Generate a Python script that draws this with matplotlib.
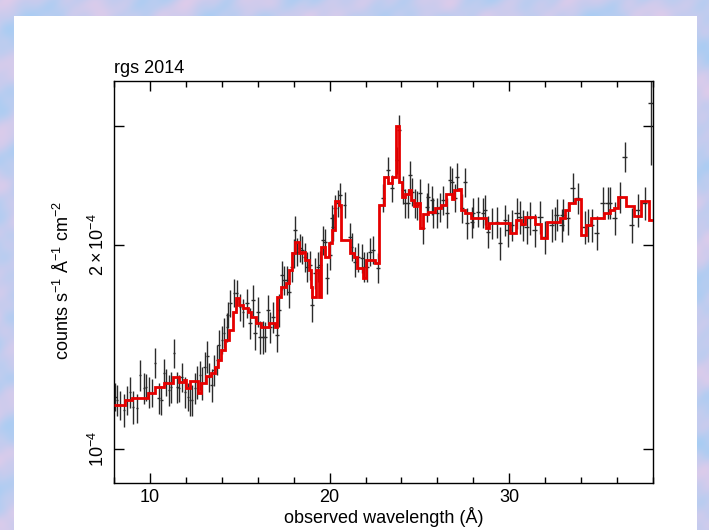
import numpy as np
import matplotlib
matplotlib.use("Agg")
import matplotlib.pyplot as plt
from matplotlib.patches import Rectangle
from matplotlib.ticker import MultipleLocator, FixedLocator, FixedFormatter, NullLocator

plt.rcParams['font.family'] = ['Liberation Sans', 'DejaVu Sans']
plt.rcParams['mathtext.fontset'] = 'custom'
plt.rcParams['mathtext.rm'] = 'Liberation Sans'
plt.rcParams['mathtext.it'] = 'Liberation Sans:italic'
plt.rcParams['mathtext.bf'] = 'Liberation Sans:bold'

# ---- RGS 2014 spectrum: wavelength (Angstrom), flux (1e-4 counts/s/A/cm^2), 1-sigma error
wl_a = [8.06, 8.17, 8.33, 8.56, 8.72, 8.89, 9.06, 9.28, 9.45, 9.67,
        9.78, 9.95, 10.11, 10.28, 10.50, 10.62, 10.78, 10.89, 11.06, 11.17,
        11.34, 11.51, 11.62, 11.78, 11.95, 12.12, 12.23, 12.34, 12.51, 12.62,
        12.79, 12.90, 13.06, 13.18, 13.29, 13.45, 13.56, 13.73, 13.84, 14.01,
        14.12, 14.29, 14.34, 14.46, 14.68, 14.84, 15.01, 15.18]
fl_a = [1.193, 1.181, 1.161, 1.142, 1.181, 1.214, 1.153, 1.149, 1.286, 1.230,
        1.234, 1.214, 1.210, 1.340, 1.190, 1.181, 1.295, 1.255, 1.222, 1.234,
        1.386, 1.234, 1.230, 1.277, 1.214, 1.193, 1.181, 1.181, 1.230, 1.255,
        1.286, 1.250, 1.320, 1.370, 1.277, 1.243, 1.308, 1.353, 1.424, 1.448,
        1.483, 1.514, 1.576, 1.643, 1.699, 1.699, 1.620, 1.590]
er_a = [0.057, 0.063, 0.057, 0.063, 0.057, 0.063, 0.063, 0.057, 0.069, 0.063,
        0.057, 0.063, 0.057, 0.069, 0.063, 0.057, 0.063, 0.057, 0.063, 0.063,
        0.069, 0.063, 0.057, 0.063, 0.063, 0.057, 0.063, 0.063, 0.063, 0.069,
        0.063, 0.069, 0.069, 0.075, 0.063, 0.069, 0.069, 0.069, 0.075, 0.069,
        0.075, 0.075, 0.069, 0.075, 0.080, 0.075, 0.075, 0.075]

wl_b = [15.40, 15.57, 15.74, 15.85, 16.01, 16.12, 16.29, 16.40, 16.57, 16.68,
        16.85, 17.07, 17.18, 17.35, 17.46, 17.63, 17.74, 17.91, 18.02, 18.07,
        18.18, 18.35, 18.46, 18.63, 18.74, 18.91, 19.02, 19.19, 19.35, 19.46,
        19.63, 19.74, 19.85, 20.02, 20.13, 20.19, 20.30, 20.47, 20.58, 20.85,
        21.13, 21.24, 21.41, 21.58, 21.80, 21.91, 22.08, 22.25, 22.41, 22.69]
fl_b = [1.642, 1.534, 1.659, 1.483, 1.593, 1.463, 1.463, 1.463, 1.604, 1.514,
        1.566, 1.473, 1.604, 1.806, 1.776, 1.776, 1.705, 1.856, 1.946, 2.105,
        1.953, 1.980, 1.966, 1.919, 1.856, 1.868, 1.631, 1.818, 1.856, 1.868,
        2.034, 2.020, 1.787, 1.933, 2.193, 2.124, 2.267, 2.307, 2.370, 2.290,
        2.054, 1.987, 1.889, 1.920, 1.913, 1.856, 1.856, 1.953, 1.966, 1.850]
er_b = [0.081, 0.081, 0.088, 0.081, 0.081, 0.081, 0.081, 0.075, 0.081, 0.081,
        0.081, 0.081, 0.088, 0.088, 0.088, 0.088, 0.088, 0.094, 0.094, 0.100,
        0.094, 0.094, 0.094, 0.094, 0.094, 0.094, 0.094, 0.094, 0.094, 0.094,
        0.100, 0.094, 0.094, 0.094, 0.100, 0.100, 0.100, 0.106, 0.100, 0.100,
        0.100, 0.094, 0.094, 0.094, 0.094, 0.094, 0.094, 0.094, 0.094, 0.094]

wl_c = [22.97, 23.25, 23.47, 23.75, 23.86, 24.08, 24.19, 24.36, 24.47, 24.58,
        24.75, 24.86, 25.03, 25.20, 25.42, 25.47, 25.70, 25.75, 25.97, 26.14,
        26.31, 26.53, 26.70, 26.81, 26.98, 27.09, 27.37, 27.53, 27.64, 27.92,
        27.98, 28.26, 28.53, 28.65, 28.81, 29.03, 29.31, 29.48, 29.76]
fl_c = [2.346, 2.580, 2.427, 2.669, 2.956, 2.411, 2.307, 2.307, 2.537, 2.396,
        2.307, 2.290, 2.386, 2.119, 2.274, 2.353, 2.330, 2.229, 2.229, 2.274,
        2.330, 2.229, 2.494, 2.477, 2.346, 2.519, 2.267, 2.477, 2.156, 2.163,
        2.229, 2.237, 2.229, 2.253, 2.090, 2.156, 2.163, 2.014, 2.177]
er_c = [0.113, 0.120, 0.113, 0.120, 0.150, 0.113, 0.113, 0.113, 0.120, 0.113,
        0.113, 0.113, 0.120, 0.113, 0.113, 0.113, 0.113, 0.113, 0.113, 0.113,
        0.113, 0.113, 0.120, 0.120, 0.113, 0.120, 0.113, 0.120, 0.113, 0.113,
        0.113, 0.113, 0.113, 0.113, 0.113, 0.113, 0.113, 0.113, 0.113]

wl_d = [29.93, 30.15, 30.43, 30.59, 30.76, 30.98, 31.15, 31.43, 31.71, 31.98,
        32.37, 32.54, 32.65, 32.93, 32.99, 33.26, 33.54, 33.82, 34.21, 34.38,
        34.60, 34.88, 35.21, 35.49, 35.60, 35.88, 36.16, 36.44, 36.83, 37.16,
        37.55, 37.88]
fl_d = [2.105, 2.141, 2.229, 2.199, 2.141, 2.126, 2.192, 2.105, 2.199, 2.055,
        2.141, 2.156, 2.214, 2.141, 2.214, 2.192, 2.427, 2.346, 2.126, 2.141,
        2.141, 2.083, 2.307, 2.307, 2.307, 2.192, 2.354, 2.697, 2.141, 2.253,
        2.307, 3.240]
er_d = [0.120, 0.113, 0.120, 0.120, 0.113, 0.120, 0.120, 0.120, 0.120, 0.113,
        0.120, 0.120, 0.120, 0.120, 0.120, 0.120, 0.125, 0.125, 0.120, 0.120,
        0.120, 0.120, 0.125, 0.125, 0.125, 0.120, 0.125, 0.138, 0.125, 0.125,
        0.130, 0.620]

# half widths of the wavelength bins in each stretch
bin_half = {"a": 0.08, "b": 0.09, "c": 0.11, "d": 0.14}

# ---- best-fit model, binned (edges in Angstrom, flux in 1e-4 units)
model_edges = [8.0, 8.6, 9.0, 9.9, 10.3, 10.8, 11.3, 11.6, 11.9, 12.0,
               12.25, 12.65, 12.85, 13.1, 13.4, 13.6, 13.8, 13.95, 14.2, 14.4,
               14.6, 14.78, 14.95, 15.2, 15.45, 15.65, 15.9, 16.2, 16.65, 16.95,
               17.1, 17.3, 17.55, 17.72, 17.9, 18.1, 18.3, 18.45, 18.65, 18.85,
               18.97, 19.03, 19.25, 19.4, 19.52, 19.75, 19.95, 20.12, 20.3, 20.5,
               20.65, 21.15, 21.35, 21.5, 21.85, 22.05, 22.55, 22.75, 23.05, 23.25,
               23.5, 23.72, 23.85, 24.02, 24.2, 24.4, 24.52, 24.68, 24.85, 25.05,
               25.2, 25.45, 25.85, 26.2, 26.5, 26.8, 26.95, 27.2, 27.3, 27.55,
               27.85, 28.7, 28.85, 30.05, 30.35, 30.65, 30.9, 31.45, 31.75, 32.1,
               32.8, 33.1, 33.35, 33.65, 34.02, 34.25, 34.55, 35.3, 35.6, 35.85,
               36.05, 36.5, 36.95, 37.35, 37.8, 38.0]
model_vals = [1.16, 1.18, 1.19, 1.21, 1.235, 1.25, 1.275, 1.255, 1.265, 1.23,
              1.26, 1.21, 1.25, 1.28, 1.295, 1.32, 1.355, 1.40, 1.45, 1.50,
              1.59, 1.67, 1.63, 1.615, 1.59, 1.566, 1.533, 1.514, 1.533, 1.514,
              1.675, 1.734, 1.757, 1.837, 1.946, 2.02, 1.946, 1.95, 1.90, 1.837,
              1.734, 1.675, 1.837, 1.675, 1.987, 1.92, 2.013, 2.105, 2.32, 2.29,
              2.034, 1.946, 1.92, 1.85, 1.79, 1.90, 1.88, 2.29, 2.52, 2.47,
              2.52, 3.0, 2.48, 2.35, 2.38, 2.41, 2.33, 2.28, 2.31, 2.12,
              2.22, 2.24, 2.27, 2.29, 2.38, 2.34, 2.41, 2.42, 2.25, 2.23,
              2.19, 2.12, 2.155, 2.08, 2.18, 2.15, 2.20, 2.15, 2.05, 2.16,
              2.19, 2.25, 2.31, 2.34, 2.07, 2.14, 2.19, 2.23, 2.25, 2.27,
              2.355, 2.28, 2.21, 2.32, 2.18]

x_ticks = [10, 20, 30]
y_ticks = [1e-4, 2e-4, 3e-4]
y_ticklabels = [r'$10^{-4}$', r'$2\times10^{-4}$', '']

UNIT = 1e-4
W, H = 709, 530
fig = plt.figure(figsize=(W / 100, H / 100), dpi=100)

# pastel marbled page background with a white sheet on top
bg = fig.add_axes([0, 0, 1, 1], zorder=-10)
yy, xx = np.mgrid[0:H, 0:W].astype(float)
n = (np.sin(xx / 13.0 + 2.3 * np.sin(yy / 21.0) + 1.1 * np.cos(xx / 47.0))
     + np.sin(yy / 9.0 + 1.9 * np.sin(xx / 29.0) + 0.9 * np.cos(yy / 37.0))
     + 0.35 * np.sin((xx - 0.6 * yy) / 4.7 + np.sin(yy / 11.0))
     + 0.25 * np.sin((0.7 * xx + yy) / 3.3 + np.cos(xx / 13.0)))
n = (n - n.min()) / (n.max() - n.min())
c_blue = np.array([168, 205, 243]) / 255.0
c_pink = np.array([222, 203, 234]) / 255.0
img = c_blue * (1 - n)[..., None] + c_pink * n[..., None]
bg.imshow(img, aspect='auto', interpolation='bilinear')
bg.set_axis_off()
fig.patches.append(Rectangle((14 / W, 0), (697 - 14) / W, (H - 16) / H,
                             transform=fig.transFigure, facecolor='white',
                             edgecolor='none', zorder=-5))

ax = fig.add_axes([114 / W, 1 - 483 / H, (653 - 114) / W, (483 - 81) / H])
ax.set_facecolor('white')

for wl, fl, er, key in [(wl_a, fl_a, er_a, "a"), (wl_b, fl_b, er_b, "b"),
                        (wl_c, fl_c, er_c, "c"), (wl_d, fl_d, er_d, "d")]:
    ax.errorbar(wl, np.array(fl) * UNIT, xerr=bin_half[key],
                yerr=np.array(er) * UNIT, fmt='none', ecolor='#2b2b2b',
                elinewidth=1.0, capsize=0, zorder=2)

ax.stairs(np.array(model_vals) * UNIT, model_edges, baseline=None,
          color='#e60000', linewidth=2.0, zorder=3)

ax.set_yscale('log')
ax.set_xlim(8, 38)
ax.set_ylim(0.891e-4, 3.49e-4)

ax.xaxis.set_major_locator(FixedLocator(x_ticks))
ax.xaxis.set_minor_locator(MultipleLocator(2))
ax.yaxis.set_major_locator(FixedLocator(y_ticks))
ax.yaxis.set_major_formatter(FixedFormatter(y_ticklabels))
ax.yaxis.set_minor_locator(NullLocator())

ax.tick_params(which='both', direction='in', top=True, right=True,
               width=1.0, color='black')
ax.tick_params(which='major', length=7)
ax.tick_params(which='minor', length=4.5)
ax.tick_params(axis='x', labelsize=13, pad=4)
ax.tick_params(axis='y', labelsize=13, pad=4)
for lab in ax.get_yticklabels():
    lab.set_rotation(90)
    lab.set_va('center')

for sp in ax.spines.values():
    sp.set_linewidth(1.0)
    sp.set_color('black')

ax.set_title('rgs 2014', loc='left', fontsize=13, pad=6)
ax.set_xlabel('observed wavelength (Å)', fontsize=13, labelpad=1)
fig.text(63 / W, 1 - 280 / H, r'counts s$^{-1}$ Å$^{-1}$ cm$^{-2}$',
         rotation=90, ha='center', va='center', fontsize=13)

fig.savefig('out.png', dpi=100)
